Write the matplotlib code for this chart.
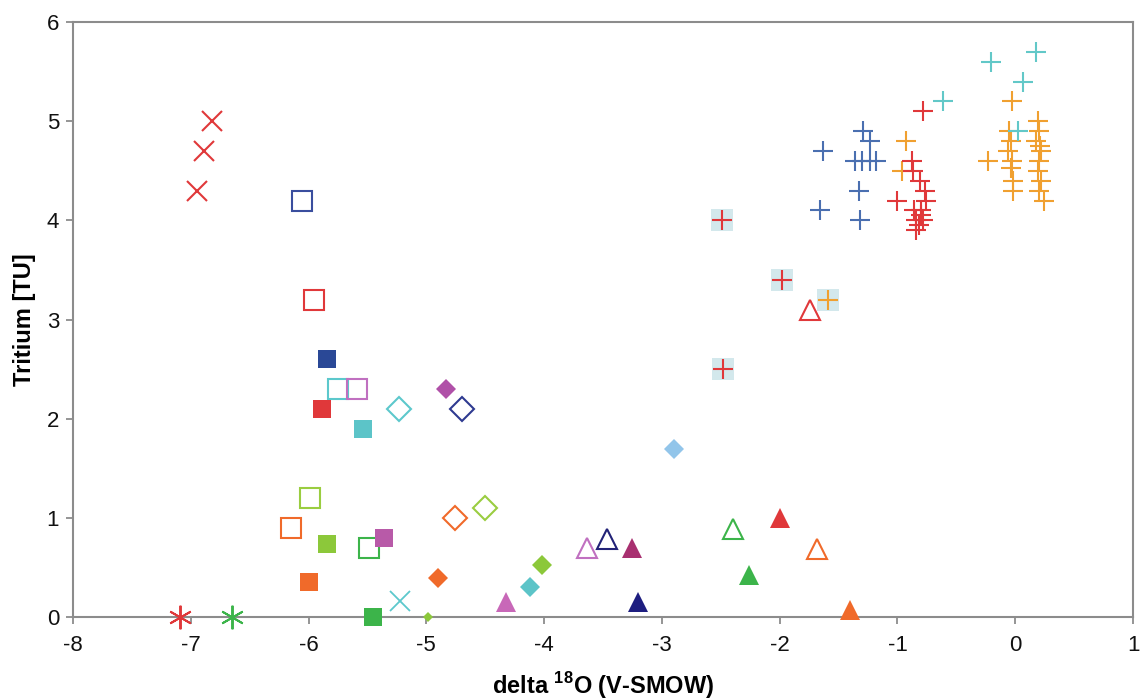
import matplotlib
matplotlib.use('Agg')
import matplotlib.pyplot as plt

#%% Datos (delta 18O, tritio)
# cruces
x_red_cross = [-6.82, -6.89, -6.95]
y_red_cross = [5.0, 4.7, 4.3]
x_cyan_cross = [-5.22]
y_cyan_cross = [0.16]

# asteriscos
x_red_star = [-7.09]
y_red_star = [0.0]
x_green_star = [-6.65]
y_green_star = [0.0]

# cuadrados abiertos
x_sq_open = [-6.06, -5.95, -5.75, -5.59, -5.99, -6.15, -5.49]
y_sq_open = [4.2, 3.2, 2.3, 2.3, 1.2, 0.9, 0.7]
c_sq_open = ['#3a4e9e', '#e0383a', '#5cc8cc', '#c070c0', '#9acd40', '#f06a2a', '#3cb44a']

# cuadrados llenos
x_sq_fill = [-5.84, -5.89, -5.54, -5.84, -5.36, -6.0, -5.45]
y_sq_fill = [2.6, 2.1, 1.9, 0.74, 0.8, 0.35, 0.0]
c_sq_fill = ['#2a4896', '#e0383a', '#5cc4c8', '#8cc83a', '#b85aa8', '#f06a2a', '#3cb44a']

# rombos abiertos
x_dia_open = [-5.23, -4.70, -4.76, -4.50]
y_dia_open = [2.1, 2.1, 1.0, 1.1]
c_dia_open = ['#5cc8cc', '#2e3a90', '#f06a2a', '#9acd40']

# rombos llenos
x_dia_fill = [-4.83, -2.90, -4.90, -4.12, -4.02]
y_dia_fill = [2.3, 1.7, 0.4, 0.3, 0.53]
c_dia_fill = ['#b050a8', '#92c5ea', '#f06a2a', '#5cc4c8', '#8cc83a']
x_dia_small = [-4.99]
y_dia_small = [0.0]

# triangulos abiertos
x_tri_open = [-3.64, -3.47, -2.40, -1.68, -1.74]
y_tri_open = [0.7, 0.79, 0.89, 0.69, 3.1]
c_tri_open = ['#c070c0', '#222277', '#3cb44a', '#f06a2a', '#e0383a']

# triangulos llenos
x_tri_fill = [-4.32, -3.25, -3.20, -2.00, -2.26, -1.40]
y_tri_fill = [0.15, 0.7, 0.15, 1.0, 0.43, 0.07]
c_tri_fill = ['#c868b8', '#a83070', '#1e1e80', '#e0383a', '#3cb44a', '#f06a2a']

# cruces (+) con fondo
x_plus_bg = [-2.49, -1.98, -2.48, -1.59]
y_plus_bg = [4.0, 3.4, 2.5, 3.2]
c_plus_bg = ['#e0383a', '#e0383a', '#e0383a', '#f0a030']

# cruces (+) azules
x_plus_blue = [-1.63, -1.29, -1.23, -1.36, -1.30, -1.23, -1.18, -1.33, -1.66, -1.32]
y_plus_blue = [4.7, 4.9, 4.8, 4.6, 4.6, 4.6, 4.6, 4.3, 4.1, 4.0]

# cruces (+) rojas
x_plus_red = [-0.78, -0.88, -0.87, -0.81, -0.77, -1.00, -0.76, -0.86, -0.80,
              -0.84, -0.78, -0.82, -0.84, -0.80]
y_plus_red = [5.1, 4.6, 4.5, 4.4, 4.3, 4.2, 4.2, 4.1, 4.1,
              4.0, 4.0, 3.95, 3.9, 4.05]

# cruces (+) naranjas
x_plus_orange = [-0.03, -0.93, -0.96, -0.23,
                 -0.05, -0.04, -0.06, -0.03, -0.02, -0.02, -0.04,
                 0.19, 0.20, 0.18, 0.22, 0.20, 0.19, 0.22, 0.20, 0.24, 0.21]
y_plus_orange = [5.2, 4.8, 4.5, 4.6,
                 4.9, 4.8, 4.7, 4.6, 4.4, 4.3, 4.53,
                 5.0, 4.9, 4.8, 4.7, 4.6, 4.5, 4.4, 4.3, 4.2, 4.75]

# cruces (+) cian
x_plus_cyan = [-0.21, 0.18, 0.07, -0.61, 0.02]
y_plus_cyan = [5.6, 5.7, 5.4, 5.2, 4.9]

#%% Grafico
plt.rcParams['font.family'] = ['Liberation Sans', 'DejaVu Sans']
plt.rcParams['axes.unicode_minus'] = False
plt.rcParams['mathtext.fontset'] = 'custom'
plt.rcParams['mathtext.rm'] = 'Liberation Sans'
plt.rcParams['mathtext.bf'] = 'Liberation Sans:bold'

fig = plt.figure(figsize=(11.41, 6.99), dpi=100)
ax = fig.add_axes([0.064, 0.117, 0.929, 0.8515])

kw = dict(linestyle='none', clip_on=False, zorder=3)

ax.plot(x_red_cross, y_red_cross, marker='x', ms=15, mew=1.5, color='#e0383a', **kw)
ax.plot(x_cyan_cross, y_cyan_cross, marker='x', ms=14, mew=1.3, color='#5cc8cc', **kw)
ax.plot(x_red_star, y_red_star, marker=(6, 2, 0), ms=17, mew=1.4, color='#e0383a', **kw)
ax.plot(x_green_star, y_green_star, marker=(6, 2, 0), ms=17, mew=1.4, color='#3cb44a', **kw)

for x, y, c in zip(x_sq_open, y_sq_open, c_sq_open):
    ax.plot(x, y, marker='s', ms=14, mew=1.5, mfc='none', mec=c, **kw)
for x, y, c in zip(x_sq_fill, y_sq_fill, c_sq_fill):
    ax.plot(x, y, marker='s', ms=12.5, mew=0, color=c, **kw)
for x, y, c in zip(x_dia_open, y_dia_open, c_dia_open):
    ax.plot(x, y, marker='D', ms=12, mew=1.5, mfc='none', mec=c, **kw)
for x, y, c in zip(x_dia_fill, y_dia_fill, c_dia_fill):
    ax.plot(x, y, marker='D', ms=10.5, mew=0, color=c, **kw)
ax.plot(x_dia_small, y_dia_small, marker='D', ms=5, mew=0, color='#8cc83a', **kw)
for x, y, c in zip(x_tri_open, y_tri_open, c_tri_open):
    ax.plot(x, y, marker='^', ms=15, mew=1.5, mfc='none', mec=c, **kw)
for x, y, c in zip(x_tri_fill, y_tri_fill, c_tri_fill):
    ax.plot(x, y, marker='^', ms=14, mew=0, color=c, **kw)

ax.plot(x_plus_bg, y_plus_bg, marker='s', ms=16, mew=0, color='#d3e8ec',
        linestyle='none', zorder=2)
for x, y, c in zip(x_plus_bg, y_plus_bg, c_plus_bg):
    ax.plot(x, y, marker='+', ms=15, mew=1.5, color=c, **kw)

ax.plot(x_plus_blue, y_plus_blue, marker='+', ms=15, mew=1.5, color='#4a6fb0', **kw)
ax.plot(x_plus_orange, y_plus_orange, marker='+', ms=15, mew=1.5, color='#f0a030', **kw)
ax.plot(x_plus_cyan, y_plus_cyan, marker='+', ms=15, mew=1.5, color='#62c8c8', **kw)
ax.plot(x_plus_red, y_plus_red, marker='+', ms=15, mew=1.5, color='#e0383a', **kw)

ax.set_xlim(-8, 1)
ax.set_ylim(0, 6)
ax.set_xticks(range(-8, 2))
ax.set_yticks(range(0, 7))
for s in ax.spines.values():
    s.set_color('#8c8c8c')
    s.set_linewidth(1.5)
ax.tick_params(direction='out', length=5, width=1.3, color='#8c8c8c',
               labelsize=16, labelcolor='#111111', pad=5)
ax.tick_params(axis='x', pad=8)

ax.set_xlabel(r'delta $^{\mathbf{18}}$O (V-SMOW)', fontsize=17, fontweight='bold', labelpad=10)
ax.set_ylabel('Tritium [TU]', fontsize=17, fontweight='bold', labelpad=8)

fig.savefig('out.png', dpi=100)
